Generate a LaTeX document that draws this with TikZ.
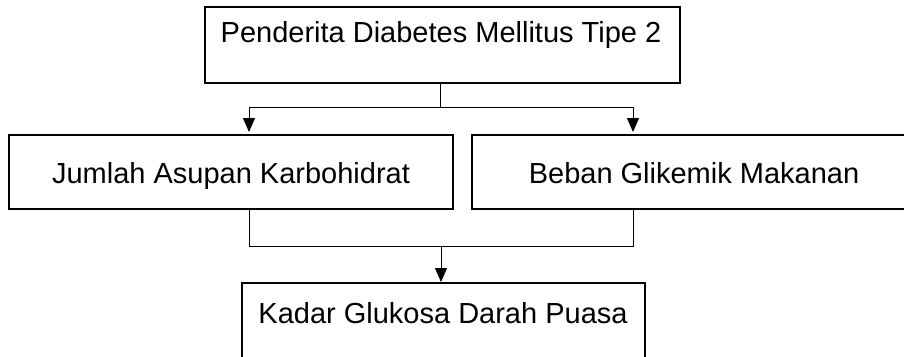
\documentclass[tikz,border=0pt]{standalone}
\usepackage{fontspec}
\setmainfont{Liberation Sans}
\usetikzlibrary{arrows.meta}
\begin{document}
\begin{tikzpicture}[x=1pt,y=-1pt,
  boxnode/.style={draw=black,line width=2pt,fill=white,rectangle,inner sep=0pt},
  lbl/.style={font=\fontsize{29}{34}\selectfont,inner sep=0pt,anchor=base},
  conn/.style={line width=1pt,draw=black},
  arr/.style={conn,-{Triangle[length=14pt,width=12pt]}}]
\useasboundingbox (0,0) rectangle (904,356);
\clip (0,0) rectangle (904,356);
% boxes
\node[boxnode,minimum width=475pt,minimum height=76pt] (top) at (442.5,45) {};
\node[boxnode,minimum width=444pt,minimum height=74pt] (left) at (231,172) {};
\node[boxnode,minimum width=448pt,minimum height=74pt] (right) at (696,172) {};
\node[boxnode,minimum width=403pt,minimum height=84pt] (bottom) at (443.5,325) {};
% texts
\node[lbl] (toptext) at (441,42) {Penderita Diabetes Mellitus Tipe 2};
\node[lbl] (lefttext) at (231,183) {Jumlah Asupan Karbohidrat};
\node[lbl] (righttext) at (694,183) {Beban Glikemik Makanan};
\node[lbl] (bottomtext) at (443,323) {Kadar Glukosa Darah Puasa};
% coordinates
\coordinate (topout) at (440,83);
\coordinate (j1) at (440,107);
\coordinate (lin) at (249,132);
\coordinate (rin) at (633,132);
\coordinate (lout) at (249,209);
\coordinate (rout) at (633,209);
\coordinate (j2) at (441,246);
\coordinate (bin) at (441,282);
% connectors
\draw[conn] (topout) -- (j1);
\draw[arr] (j1) -| (lin);
\draw[arr] (j1) -| (rin);
\draw[conn] (lout) |- (j2);
\draw[conn] (rout) |- (j2);
\draw[arr] (j2) -- (bin);
\end{tikzpicture}
\end{document}
